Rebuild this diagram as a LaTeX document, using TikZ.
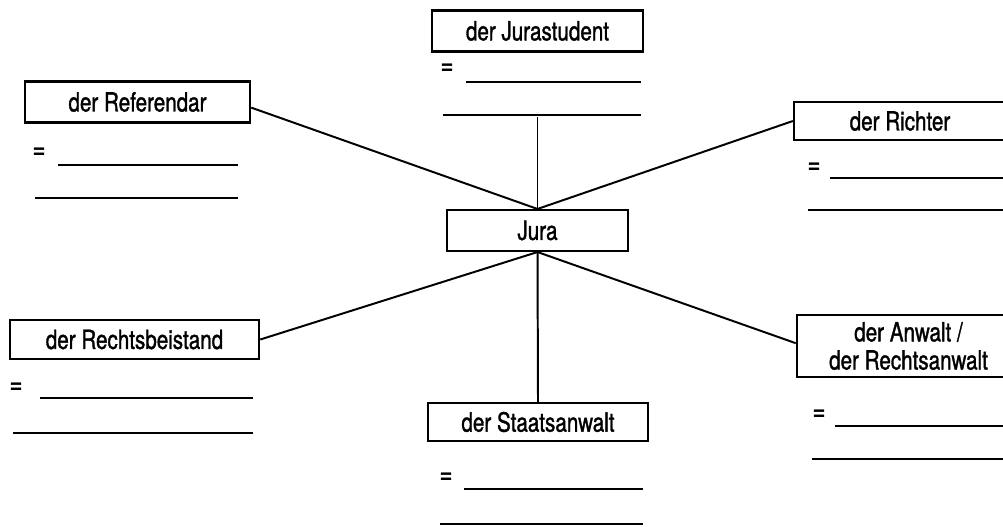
\documentclass[tikz,border=0pt]{standalone}
\usepackage{fontspec}
\newfontfamily\boxfont{TeX Gyre Heros}[FakeStretch=0.78, FakeBold=1.2]
\usetikzlibrary{positioning}

\begin{document}
\begin{tikzpicture}[x=0.025cm, y=-0.025cm,
    word/.style={draw, line width=1.6pt, inner sep=0pt, align=center,
        font=\boxfont\fontsize{18.8}{20}\selectfont},
    link/.style={line width=1.4pt},
    blank/.style={line width=1.5pt},
    eqsign/.style={inner sep=0pt, font=\boxfont\fontsize{20}{20}\selectfont}
]
    \useasboundingbox (0,0) rectangle (1003,526);

    % Boxes
    \node[word, minimum width=5.28cm, minimum height=1.02cm] (stud) at (537.5,31) {der Jurastudent};
    \node[word, minimum width=5.63cm, minimum height=1.02cm] (ref) at (137.5,102) {der Referendar};
    \node[word, minimum width=5.3cm, minimum height=0.95cm] (richt) at (900,121) {der Richter};
    \node[word, minimum width=4.53cm, minimum height=1.02cm] (jura) at (537.5,230.5) {Jura};
    \node[word, minimum width=6.23cm, minimum height=0.98cm] (beist) at (134.5,339.5) {der Rechtsbeistand};
    \node[word, minimum width=5.5cm, minimum height=0.95cm] (staat) at (538,422) {der Staatsanwalt};
    \node[word, minimum width=5.58cm, minimum height=1.55cm] (anw) at (908.5,346) {der Anwalt /\\der Rechtsanwalt};

    % Connectors
    \coordinate (studfoot) at (537.5,117);
    \draw[link] (studfoot) -- (jura.north);
    \draw[link] ([yshift=-4pt]ref.east) -- (jura.north);
    \draw[link] (richt.west) -- (jura.north);
    \draw[link] (beist.east) -- (jura.south);
    \draw[link] ([yshift=2pt]anw.west) -- (jura.south);
    \draw[link] (jura.south) -- (staat.north);

    % Answer lines
    \node[eqsign] (studeq) at (447,69) {=};
    \draw[blank] (466,82) -- (641,82);
    \draw[blank] (443,115) -- (641,115);

    \node[eqsign] (refeq) at (39,153) {=};
    \draw[blank] (58,165) -- (238,165);
    \draw[blank] (35,198) -- (238,198);

    \node[eqsign] (richteq) at (814,168) {=};
    \draw[blank] (830,178) -- (1003,178);
    \draw[blank] (808,210) -- (1003,210);

    \node[eqsign] (beisteq) at (16,388) {=};
    \draw[blank] (40,398) -- (253,398);
    \draw[blank] (13,433) -- (253,433);

    \node[eqsign] (staateq) at (446,478) {=};
    \draw[blank] (464,489) -- (643,489);
    \draw[blank] (440,524) -- (643,524);

    \node[eqsign] (anweq) at (819,415) {=};
    \draw[blank] (835,426) -- (1003,426);
    \draw[blank] (812,459) -- (1003,459);

\end{tikzpicture}
\end{document}
